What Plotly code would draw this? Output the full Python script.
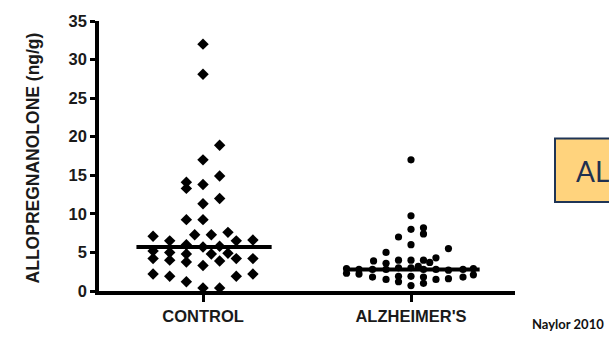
import plotly.graph_objects as go

# ---- data ----
categories = ["CONTROL", "ALZHEIMER'S"]

control_values = [32.0, 28.1, 18.9, 17.0, 14.9, 14.1, 13.3, 13.8, 12.0, 11.3,
                  9.25, 9.25, 7.1, 6.5, 7.3, 7.3, 7.6, 6.5, 6.6, 6.0,
                  5.7, 5.8, 5.2, 4.2, 5.0, 4.0, 4.8, 3.75, 4.8, 4.9,
                  3.9, 4.2, 4.2, 3.3, 2.2, 1.9, 1.9, 2.2, 1.2, 0.4, 0.4]
control_jitter = [0, 0, 0.08, 0, 0.08, -0.08, -0.08, 0, 0.08, 0,
                  -0.08, 0, -0.24, -0.16, -0.04, 0.04, 0.12, 0.16, 0.24, -0.08,
                  0, 0.08, -0.24, -0.24, -0.16, -0.16, -0.08, -0.08, 0.04, 0.12,
                  0.08, 0.16, 0.24, 0, -0.24, -0.16, 0.16, 0.24, -0.08, 0, 0.08]

alz_values = [17.0, 9.75, 8.0, 8.2, 7.4, 7.0, 6.0, 5.5, 5.0, 3.9,
              3.6, 4.0, 4.0, 4.0, 3.7, 4.3, 3.2,
              2.9, 2.8, 2.8, 2.8, 3.0, 3.0, 2.8, 2.8, 2.7, 2.8, 2.9,
              2.3, 2.2, 1.8, 1.5, 1.9, 1.9, 1.8, 1.5, 1.6, 1.8, 2.1,
              1.2, 0.7, 1.0]
alz_jitter = [0, 0, 0, 0.06, 0.06, -0.06, 0, 0.18, -0.12, -0.18,
              -0.12, -0.06, 0, 0.06, 0.09, 0.12, 0.035,
              -0.31, -0.25, -0.185, -0.12, -0.06, 0, 0.06, 0.12, 0.18, 0.25, 0.30,
              -0.31, -0.25, -0.185, -0.12, -0.06, 0, 0.06, 0.12, 0.18, 0.25, 0.30,
              -0.06, 0, 0.06]

medians = [5.7, 2.8]
median_halfwidth = 0.32

y_ticks = [0, 5, 10, 15, 20, 25, 30, 35]

# ---- layout geometry ----
W, H = 609, 337
L, R, T, B = 99, 94, 13, 45
PW, PH = W - L - R, H - T - B


def px_x(px):
    return (px - L) / PW


def px_y(py):
    return (H - B - py) / PH


fig = go.Figure()

fig.add_trace(go.Scatter(
    x=[0 + j for j in control_jitter], y=control_values, mode="markers",
    marker=dict(symbol="diamond", size=8.8, color="black"),
    showlegend=False, hoverinfo="y"))

fig.add_trace(go.Scatter(
    x=[1 + j for j in alz_jitter], y=alz_values, mode="markers",
    marker=dict(symbol="circle", size=7.2, color="black"),
    showlegend=False, hoverinfo="y"))

for i, m in enumerate(medians):
    fig.add_trace(go.Scatter(
        x=[i - median_halfwidth, i + median_halfwidth + 0.01], y=[m, m],
        mode="lines", line=dict(color="black", width=4),
        showlegend=False, hoverinfo="skip"))

font_axis = "Liberation Sans, Arial, sans-serif"

fig.update_layout(
    width=W, height=H,
    margin=dict(l=L, r=R, t=T, b=B, pad=0),
    paper_bgcolor="white", plot_bgcolor="white",
    xaxis=dict(range=[-0.5, 1.5], tickmode="array", tickvals=[0, 1],
               ticktext=["<b>%s</b>" % c for c in categories],
               showgrid=False, zeroline=False,
               showline=True, linecolor="black", linewidth=4,
               ticks="outside", ticklen=7, tickwidth=3, tickcolor="black",
               tickfont=dict(family=font_axis, size=16.5, color="#1a1a1a")),
    yaxis=dict(range=[0, 35], tickmode="array", tickvals=y_ticks,
               ticktext=["<b>%d</b>" % v for v in y_ticks],
               showgrid=False, zeroline=False,
               showline=True, linecolor="black", linewidth=3.5,
               ticks="outside", ticklen=5, tickwidth=3, tickcolor="black",
               tickfont=dict(family=font_axis, size=16.5, color="#1a1a1a")),
    annotations=[
        dict(text="<b>ALLOPREGNANOLONE (ng/g)</b>", textangle=-90,
             xref="paper", yref="paper", x=px_x(33), y=px_y(155),
             xanchor="center", yanchor="middle", showarrow=False,
             font=dict(family=font_axis, size=17.5, color="#1a1a1a")),
        dict(text="AL", xref="paper", yref="paper",
             x=px_x(574), y=px_y(168), xanchor="left", yanchor="middle",
             showarrow=False,
             font=dict(family="Lato, Open Sans, sans-serif", size=28, color="#1F3050")),
        dict(text="<b>Naylor 2010</b>", xref="paper", yref="paper",
             x=px_x(530), y=px_y(326), xanchor="left", yanchor="middle",
             showarrow=False,
             font=dict(family="Lato, Open Sans, sans-serif", size=13, color="#111111")),
    ],
    shapes=[
        dict(type="rect", xref="paper", yref="paper",
             x0=px_x(555), x1=px_x(620), y0=px_y(200), y1=px_y(134.5),
             line=dict(color="#1F3556", width=2), fillcolor="#FFD37D", layer="below"),
    ],
)

fig.write_html("out.html")
